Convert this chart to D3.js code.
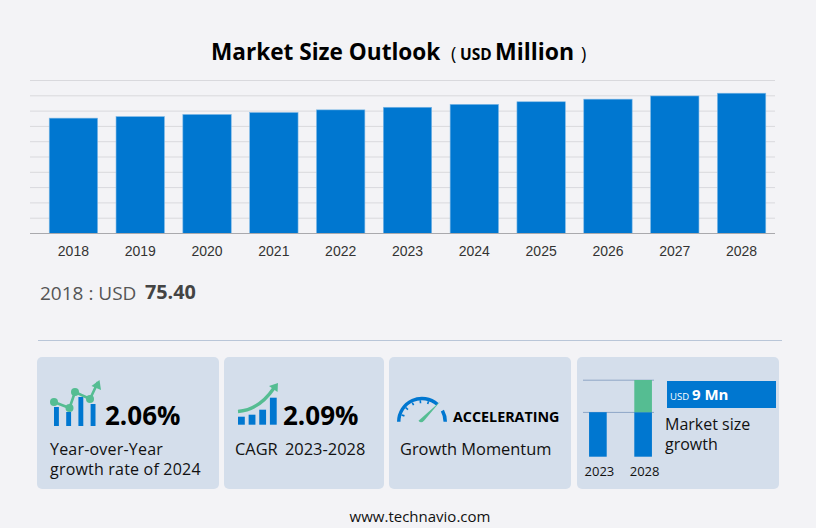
<!DOCTYPE html>
<html>
<head>
<meta charset="utf-8">
<script src="https://cdn.jsdelivr.net/npm/d3@7"></script>
<style>
  html, body { margin: 0; padding: 0; background: #f3f3f6; }
  svg { display: block; }
  text { font-family: "Open Sans", sans-serif; }
</style>
</head>
<body>
<svg id="chart" width="816" height="528"></svg>
<script>
// main chart data
const years = ["2018", "2019", "2020", "2021", "2022", "2023", "2024", "2025", "2026", "2027", "2028"];
const marketSize = [75.4, 76.4, 77.8, 79.1, 80.8, 82.5, 84.4, 86.1, 87.8, 89.9, 91.7];
const gridValues = [0, 10, 20, 30, 40, 50, 60, 70, 80, 90, 100];

// small charts in the cards
const miniYears = ["2023", "2028"];
const miniBase = [58, 58];
const miniGrowth = [0, 42];
const yoyBars = [19, 14, 29, 22];
const yoyLine = [24, 18, 34, 27, 44];
const cagrBars = [8, 10, 15, 27];

const blue = "#0077d0";
const green = "#55bd92";
const cardFill = "#d4deeb";

const svg = d3.select("#chart");

// Title
const title = svg.append("text").attr("y", 60).attr("fill", "#000").attr("font-weight", 700);
title.append("tspan").attr("x", 211).attr("font-size", 22.6).text("Market Size Outlook");
title.append("tspan").attr("x", 451).attr("font-size", 18).attr("font-weight", 400).text("(");
title.append("tspan").attr("x", 460).attr("font-size", 15.5).text("USD");
title.append("tspan").attr("x", 495).attr("font-size", 23).text("Million");
title.append("tspan").attr("x", 581).attr("font-size", 18).attr("font-weight", 400).text(")");

// Scales
const x = d3.scaleBand().domain(years).range([40, 775]).paddingInner(0.276).paddingOuter(0.138);
const y = d3.scaleLinear().domain([0, 100]).range([233.5, 80.5]);

// Gridlines
svg.append("g")
    .selectAll("line")
    .data(gridValues.slice(1))
    .join("line")
    .attr("x1", 30).attr("x2", 775)
    .attr("y1", d => y(d)).attr("y2", d => y(d))
    .attr("stroke", "#d9d9dd");

// Bars
svg.append("g")
    .selectAll("rect")
    .data(years)
    .join("rect")
    .attr("x", d => x(d))
    .attr("y", (d, i) => y(marketSize[i]))
    .attr("width", x.bandwidth())
    .attr("height", (d, i) => y(0) - y(marketSize[i]))
    .attr("fill", blue)
    .attr("stroke", "#7db8e6")
    .attr("stroke-width", 0.6);

// X axis
const xAxis = svg.append("g")
    .attr("transform", `translate(0, ${y(0)})`)
    .call(d3.axisBottom(x).tickSize(0).tickPadding(13));
xAxis.select(".domain").remove();
xAxis.selectAll("text")
    .style("font-family", "'Liberation Sans', Arial, sans-serif")
    .attr("font-size", 14)
    .attr("fill", "#333");
svg.append("line")
    .attr("x1", 30).attr("x2", 775)
    .attr("y1", y(0)).attr("y2", y(0))
    .attr("stroke", "#a9a9ad");

// 2018 value
svg.append("text").attr("x", 40).attr("y", 300).attr("font-size", 19).attr("fill", "#555").text("2018 : USD");
svg.append("text").attr("x", 145).attr("y", 298.5).attr("font-size", 19.8).attr("font-weight", 700).attr("fill", "#444").text("75.40");

// Divider
svg.append("line")
    .attr("x1", 38).attr("x2", 782)
    .attr("y1", 340.5).attr("y2", 340.5)
    .attr("stroke", "#b9c6d8");

// Cards
const cards = [[37, 182], [224, 160], [389, 182], [577, 202]];
svg.append("g")
    .selectAll("rect")
    .data(cards)
    .join("rect")
    .attr("x", d => d[0]).attr("y", 357)
    .attr("width", d => d[1]).attr("height", 132)
    .attr("rx", 5)
    .attr("fill", cardFill);

function cardText(px, py, size, str, weight, fill) {
    return svg.append("text")
        .attr("x", px).attr("y", py)
        .attr("font-size", size)
        .attr("font-weight", weight || 400)
        .attr("fill", fill || "#111")
        .text(str);
}

// two line label, kept as one text
function cardLines(px, py, size, lines, spacing) {
    const t = svg.append("text")
        .attr("font-size", size)
        .attr("letter-spacing", spacing || 0)
        .attr("fill", "#111");
    lines.forEach((line, i) => {
        t.append("tspan").attr("x", px).attr("y", py + i * 20).text(line);
    });
}

// Card 1: year over year
const yoyX = d3.scaleBand().domain(d3.range(4)).range([54, 95.5]).paddingInner(0.6).paddingOuter(0);
const iconY = d3.scaleLinear().domain([0, 44]).range([426, 382]);
svg.append("g").selectAll("rect")
    .data(yoyBars)
    .join("rect")
    .attr("x", (d, i) => yoyX(i))
    .attr("y", d => iconY(d))
    .attr("width", yoyX.bandwidth())
    .attr("height", d => iconY(0) - iconY(d))
    .attr("fill", blue);
const yoyPtX = d3.scaleOrdinal().domain(d3.range(5)).range([54, 69.5, 75, 90, 98]);
svg.append("path")
    .attr("d", d3.line().x((d, i) => yoyPtX(i)).y(d => iconY(d))(yoyLine))
    .attr("fill", "none").attr("stroke", green).attr("stroke-width", 2.6);
svg.append("g").selectAll("circle")
    .data(yoyLine.slice(0, 4))
    .join("circle")
    .attr("cx", (d, i) => yoyPtX(i))
    .attr("cy", d => iconY(d))
    .attr("r", 4)
    .attr("fill", green);
svg.append("path").attr("d", "M99.5,380 L101,390 L91.5,386 Z").attr("fill", green);
cardText(105, 425, 26, "2.06%", 700, "#000");
cardLines(50, 455, 16, ["Year-over-Year", "growth rate of 2024"], 0.2);

// Card 2: CAGR
const cagrX = d3.scaleBand().domain(d3.range(4)).range([238, 276.7]).paddingInner(0.36).paddingOuter(0);
const cagrY = d3.scaleLinear().domain([0, 27]).range([424.7, 397.7]);
svg.append("g").selectAll("rect")
    .data(cagrBars)
    .join("rect")
    .attr("x", (d, i) => cagrX(i))
    .attr("y", d => cagrY(d))
    .attr("width", cagrX.bandwidth())
    .attr("height", d => cagrY(0) - cagrY(d))
    .attr("fill", blue);
svg.append("path")
    .attr("d", "M238,411.5 Q259,410 274,388")
    .attr("fill", "none").attr("stroke", green).attr("stroke-width", 3.4);
svg.append("path").attr("d", "M278,383 L277.5,392 L269,386 Z").attr("fill", green);
cardText(283, 425, 26, "2.09%", 700, "#000");
cardText(235, 455, 16.4, "CAGR");
cardText(285, 455, 16.4, "2023-2028");

// Card 3: gauge
const gauge = svg.append("g").attr("transform", "translate(422, 421.7)");
const gaugeArc = d3.arc().innerRadius(21.5).outerRadius(25);
gauge.append("path")
    .attr("d", gaugeArc({ startAngle: -Math.PI / 2, endAngle: 0.72 }))
    .attr("fill", blue);
gauge.append("path")
    .attr("d", gaugeArc({ startAngle: 1.07, endAngle: Math.PI / 2 }))
    .attr("fill", blue);
gauge.selectAll("line")
    .data(d3.range(-1.25, 0.7, 0.39))
    .join("line")
    .attr("x1", d => 21.5 * Math.sin(d)).attr("y1", d => -21.5 * Math.cos(d))
    .attr("x2", d => 18.5 * Math.sin(d)).attr("y2", d => -18.5 * Math.cos(d))
    .attr("stroke", blue).attr("stroke-width", 1.6);
gauge.append("path")
    .attr("d", "M-3.5,-1 L18,-20 L2,-1 Q-1,2 -3.5,-1 Z")
    .attr("fill", green);
cardText(453, 422, 14.3, "ACCELERATING", 700, "#000");
cardText(400, 455, 16.4, "Growth Momentum");

// Card 4: mini chart
const miniX = d3.scaleBand().domain(miniYears).range([575.5, 665.5]).paddingInner(0.61).paddingOuter(0.3);
const miniY = d3.scaleLinear().domain([0, 100]).range([456.7, 380]);
svg.append("g").selectAll("line")
    .data([miniBase[0], miniBase[1] + miniGrowth[1]])
    .join("line")
    .attr("x1", 583).attr("x2", 654)
    .attr("y1", d => miniY(d) + 0.2).attr("y2", d => miniY(d) + 0.2)
    .attr("stroke", "#8ea6c6");
svg.append("g").selectAll("rect")
    .data(miniYears)
    .join("rect")
    .attr("x", d => miniX(d))
    .attr("y", (d, i) => miniY(miniBase[i]))
    .attr("width", miniX.bandwidth())
    .attr("height", (d, i) => miniY(0) - miniY(miniBase[i]))
    .attr("fill", blue);
svg.append("rect")
    .attr("x", miniX("2028"))
    .attr("y", miniY(miniBase[1] + miniGrowth[1]))
    .attr("width", miniX.bandwidth())
    .attr("height", miniY(miniBase[1]) - miniY(miniBase[1] + miniGrowth[1]))
    .attr("fill", green);
svg.append("g").selectAll("text")
    .data(miniYears)
    .join("text")
    .attr("x", d => miniX(d) + miniX.bandwidth() / 2 + 1.5)
    .attr("y", 475.5)
    .attr("text-anchor", "middle")
    .attr("font-size", 13)
    .attr("fill", "#111")
    .text(d => d);
svg.append("rect").attr("x", 667).attr("y", 381).attr("width", 109).attr("height", 27).attr("fill", blue);
cardText(670, 400, 9.5, "USD", 400, "#fff");
cardText(692, 400, 15, "9 Mn", 700, "#fff");
cardLines(665, 430, 16, ["Market size", "growth"]);

// Footer
svg.append("text")
    .attr("x", 420).attr("y", 522)
    .attr("text-anchor", "middle")
    .attr("font-size", 15)
    .attr("fill", "#111")
    .text("www.technavio.com");
</script>
</body>
</html>
